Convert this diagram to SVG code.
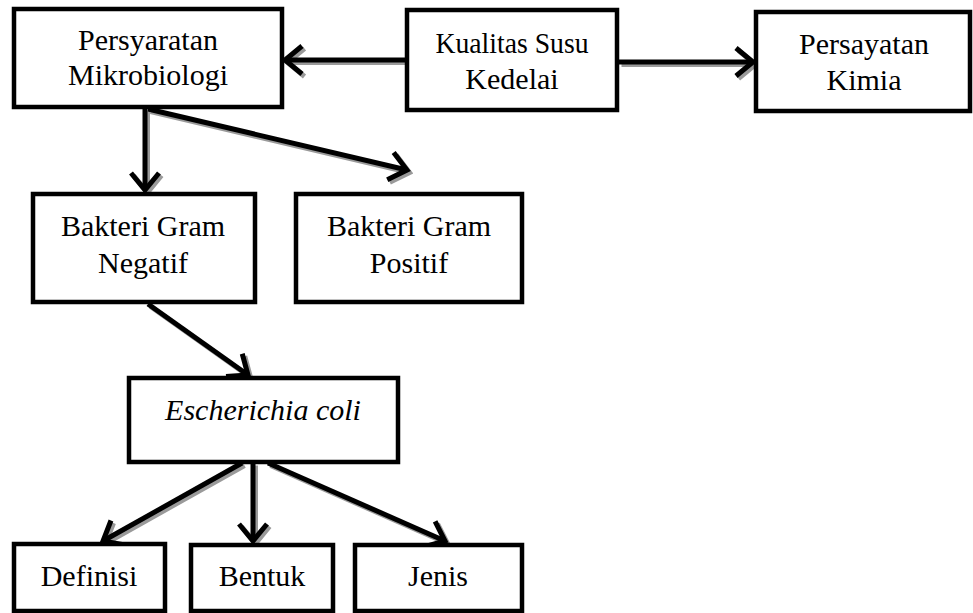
<svg xmlns="http://www.w3.org/2000/svg" width="973" height="613" viewBox="0 0 973 613">
<style>
.box{fill:#fff;stroke:#000;stroke-width:4.5}
text{font-family:'Liberation Serif','Times New Roman',Times,'DejaVu Serif',serif;font-size:30px;fill:#000;text-anchor:middle}
.i{font-style:italic}
.c{fill:none;stroke:#000;stroke-width:5;marker-end:url(#ah)}
.s{fill:none;stroke:#9a9a9a;stroke-width:5;marker-end:url(#ahs)}
</style>
<defs>
<marker id="ah" viewBox="0 0 24 34" refX="20" refY="17" markerWidth="24" markerHeight="34" markerUnits="userSpaceOnUse" orient="auto">
<path d="M3,3 L20,17 L3,31" fill="none" stroke="#000" stroke-width="5"/>
</marker>
<marker id="ahs" viewBox="0 0 24 34" refX="20" refY="17" markerWidth="24" markerHeight="34" markerUnits="userSpaceOnUse" orient="auto">
<path d="M3,3 L20,17 L3,31" fill="none" stroke="#9a9a9a" stroke-width="5"/>
</marker>
</defs>
<g id="connectors">
<g transform="translate(2.5,2.5)">
<line class="s" x1="405" y1="60" x2="285" y2="60"/>
<line class="s" x1="619" y1="62" x2="753" y2="62"/>
<line class="s" x1="145" y1="109" x2="145" y2="190"/>
<line class="s" x1="148" y1="109" x2="407" y2="170"/>
<line class="s" x1="148" y1="304" x2="248" y2="375"/>
<line class="s" x1="242" y1="463" x2="103" y2="541"/>
<line class="s" x1="253" y1="463" x2="253" y2="541"/>
<line class="s" x1="268" y1="463" x2="445" y2="541"/>
</g>
<line class="c" x1="405" y1="60" x2="285" y2="60"/>
<line class="c" x1="619" y1="62" x2="753" y2="62"/>
<line class="c" x1="145" y1="109" x2="145" y2="190"/>
<line class="c" x1="148" y1="109" x2="407" y2="170"/>
<line class="c" x1="148" y1="304" x2="248" y2="375"/>
<line class="c" x1="242" y1="463" x2="103" y2="541"/>
<line class="c" x1="253" y1="463" x2="253" y2="541"/>
<line class="c" x1="268" y1="463" x2="445" y2="541"/>
</g>
<g id="persyaratan-mikrobiologi">
<rect class="box" x="14" y="9" width="268" height="98"/>
<text x="148" y="50">Persyaratan</text>
<text x="148" y="85">Mikrobiologi</text>
</g>
<g id="kualitas-susu-kedelai">
<rect class="box" x="407" y="10" width="210" height="100"/>
<text x="512" y="53" textLength="153" lengthAdjust="spacingAndGlyphs">Kualitas Susu</text>
<text x="512" y="89">Kedelai</text>
</g>
<g id="persayatan-kimia">
<rect class="box" x="756" y="12" width="214" height="99"/>
<text x="864" y="54">Persayatan</text>
<text x="864" y="90">Kimia</text>
</g>
<g id="bakteri-gram-negatif">
<rect class="box" x="33" y="194" width="222" height="108"/>
<text x="143" y="236">Bakteri Gram</text>
<text x="143" y="273">Negatif</text>
</g>
<g id="bakteri-gram-positif">
<rect class="box" x="296" y="194" width="226" height="108"/>
<text x="409" y="236">Bakteri Gram</text>
<text x="409" y="273">Positif</text>
</g>
<g id="escherichia-coli">
<rect class="box" x="129" y="378" width="269" height="84"/>
<text class="i" x="263" y="420">Escherichia coli</text>
</g>
<g id="definisi">
<rect class="box" x="14" y="544" width="151" height="67"/>
<text x="89" y="586">Definisi</text>
</g>
<g id="bentuk">
<rect class="box" x="191" y="545" width="142" height="66"/>
<text x="262" y="586">Bentuk</text>
</g>
<g id="jenis">
<rect class="box" x="355" y="545" width="167" height="66"/>
<text x="438" y="586">Jenis</text>
</g>
</svg>
